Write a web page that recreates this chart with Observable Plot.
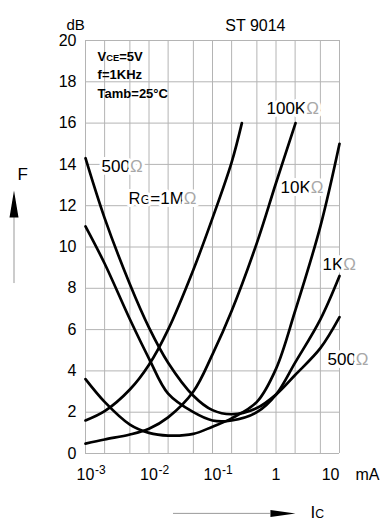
<!DOCTYPE html>
<html><head><meta charset="utf-8">
<script src="https://cdn.jsdelivr.net/npm/d3@7"></script>
<script src="https://cdn.jsdelivr.net/npm/@observablehq/plot@0.6"></script>
<style>body{margin:0;background:#fff;} svg{display:block;}</style>
</head><body><div id="chart"></div>
<script>
// ---- grid / ticks ----
const icGrid = [0.001,0.002,0.005,0.01,0.02,0.05,0.1,0.2,0.5,1,2,5,10];
const fGrid = [0,2,4,6,8,10,12,14,16,18,20];
const xTickValues = [0.001,0.01,0.1,1,10];
const xTickBase = ["10","10","10","1","10"];
const xTickExp = ["-3","-2","-1","",""];

// ---- series (Ic in mA, F in dB) ----
const ic1M = [0.001,0.002,0.005,0.01,0.02,0.05,0.1,0.2,0.29];
const f1M  = [1.6,2.05,3.1,4.3,6.0,8.9,11.4,14.1,16.0];
const ic100K = [0.001,0.002,0.005,0.01,0.02,0.05,0.1,0.2,0.5,1,2.03];
const f100K  = [0.48,0.68,0.92,1.2,1.75,3.0,4.8,6.9,10.2,13.1,16.0];
const ic10K = [0.001,0.002,0.005,0.01,0.02,0.05,0.1,0.2,0.5,1,2,5,10];
const f10K  = [3.6,2.5,1.4,1.0,0.87,0.95,1.3,1.7,2.5,4.1,6.9,11.0,15.0];
const ic1K = [0.001,0.002,0.005,0.01,0.02,0.05,0.1,0.2,0.5,1,2,5,10];
const f1K  = [11.0,9.2,6.5,4.6,2.9,2.0,1.6,1.6,2.0,2.85,4.4,6.5,8.6];
const ic500 = [0.001,0.002,0.005,0.01,0.02,0.05,0.1,0.2,0.5,1,2,5,10];
const f500  = [14.3,11.4,8.2,6.1,4.4,2.8,2.1,1.9,2.2,2.85,3.8,5.1,6.6];
const seriesNames = ["1M","100K","10K","1K","500"];

// ---- curve labels ----
const labelText = ["500Ω","R[G]=1MΩ","100KΩ","10KΩ","1KΩ","500Ω"];
const labelIc = [0.00179,0.00475,0.708,1.18,5.4,6.47];
const labelF  = [13.9,12.35,16.7,12.9,9.15,4.55];

// ---- test conditions ----
const condText = ["V[CE]=5V","f=1KHz","Tamb=25°C"];
const condIc = [0.00155,0.00155,0.00155];
const condF = [19.2,18.35,17.43];

const series = [[ic1M,f1M],[ic100K,f100K],[ic10K,f10K],[ic1K,f1K],[ic500,f500]];
const rows = series.flatMap(([xs,ys],k)=>xs.map((x,i)=>({x, f:ys[i], name:seriesNames[k]})));
const labels = labelText.map((t,i)=>({t, x:labelIc[i], f:labelF[i]}));
const conds = condText.map((t,i)=>({t, x:condIc[i], f:condF[i]}));
const ticks = xTickValues.map((v,i)=>({v, b:xTickBase[i], e:xTickExp[i]}));

// custom filled triangles (arrow heads)
const triUp = {draw(ctx){ctx.moveTo(0,-27);ctx.lineTo(4.5,0);ctx.lineTo(-4.5,0);ctx.closePath();}};
const triRight = {draw(ctx){ctx.moveTo(25,0);ctx.lineTo(0,-3.5);ctx.lineTo(0,3.5);ctx.closePath();}};

const font = "'Liberation Sans', Arial, sans-serif";
const chart = Plot.plot({
  width: 383, height: 522,
  marginTop: 40, marginBottom: 69, marginLeft: 85, marginRight: 44,
  style: {fontFamily: font, fontSize: "16px", background: "white", color: "black"},
  x: {type: "log", domain: [0.001, 10], axis: null},
  y: {domain: [0, 20], ticks: fGrid, tickSize: 0, tickPadding: 9, label: null},
  marks: [
    Plot.ruleX(icGrid, {stroke: "#b4b4b4", strokeWidth: 1}),
    Plot.ruleY(fGrid, {stroke: "#b4b4b4", strokeWidth: 1}),
    Plot.line(rows, {x: "x", y: "f", z: "name", stroke: "black", strokeWidth: 2.7, curve: "catmull-rom"}),
    Plot.text(labels, {x: "x", y: "f", text: "t", textAnchor: "start", fontSize: 17, fill: "black", stroke: "white", strokeWidth: 6}),
    Plot.text(conds, {x: "x", y: "f", text: "t", textAnchor: "start", fontSize: 13, fontWeight: "bold", fill: "black"}),
    // x tick labels
    Plot.text(ticks.filter(d => d.v < 10), {x: "v", y: () => 0, text: "b", dy: 21, fontSize: 16}),
    Plot.text(ticks.filter(d => d.v === 10), {x: "v", y: () => 0, text: "b", dy: 21, fontSize: 16, textAnchor: "end"}),
    Plot.text(ticks.filter(d => d.e), {x: "v", y: () => 0, text: "e", dy: 17, dx: 9.5, fontSize: 12, textAnchor: "start"}),
    Plot.text(["mA"], {x: () => 10, y: () => 0, dx: 16, dy: 21, fontSize: 16, textAnchor: "start"}),
    // header texts
    Plot.text(["dB"], {frameAnchor: "top-left", dx: -19, dy: -21, fontSize: 15}),
    Plot.text(["ST 9014"], {frameAnchor: "top-right", dx: -54, dy: -21, fontSize: 16}),
    // F axis arrow
    Plot.text(["F"], {frameAnchor: "left", dx: -68, dy: -72, fontSize: 17}),
    Plot.ruleX([0.001], {y1: 8.23, y2: 11.43, dx: -71.5, stroke: "#999", strokeWidth: 1}),
    Plot.dot([0], {x: () => 0.001, y: () => 11.43, dx: -71.5, symbol: triUp, fill: "black", stroke: "none", r: 5}),
    // Ic axis arrow
    Plot.ruleY([-2.9], {x1: 0.0243, x2: 0.818, stroke: "#999", strokeWidth: 1}),
    Plot.dot([0], {x: () => 0.818, y: () => -2.9, symbol: triRight, fill: "black", stroke: "none", r: 5}),
    Plot.text(["I[C]"], {x: () => 3.49, y: () => -2.85, textAnchor: "start", fontSize: 17})
  ]
});

// rich text: [..] -> smaller letters, Ω -> light grey
d3.select(chart).selectAll("text").each(function() {
  if (this.children.length) return;
  const t = this.textContent;
  if (!/[\[Ω]/.test(t)) return;
  const parts = t.split(/(\[[^\]]*\]|Ω)/).filter(s => s.length);
  this.textContent = "";
  for (const p of parts) {
    const ts = d3.select(this).append("tspan");
    if (p === "Ω") { ts.text("Ω").attr("fill", "#a8a8a8").attr("font-weight", "normal"); }
    else if (p[0] === "[") { ts.text(p.slice(1, -1)).attr("font-size", "0.72em"); }
    else ts.text(p);
  }
});

document.getElementById("chart").appendChild(chart);
</script>
</body></html>
